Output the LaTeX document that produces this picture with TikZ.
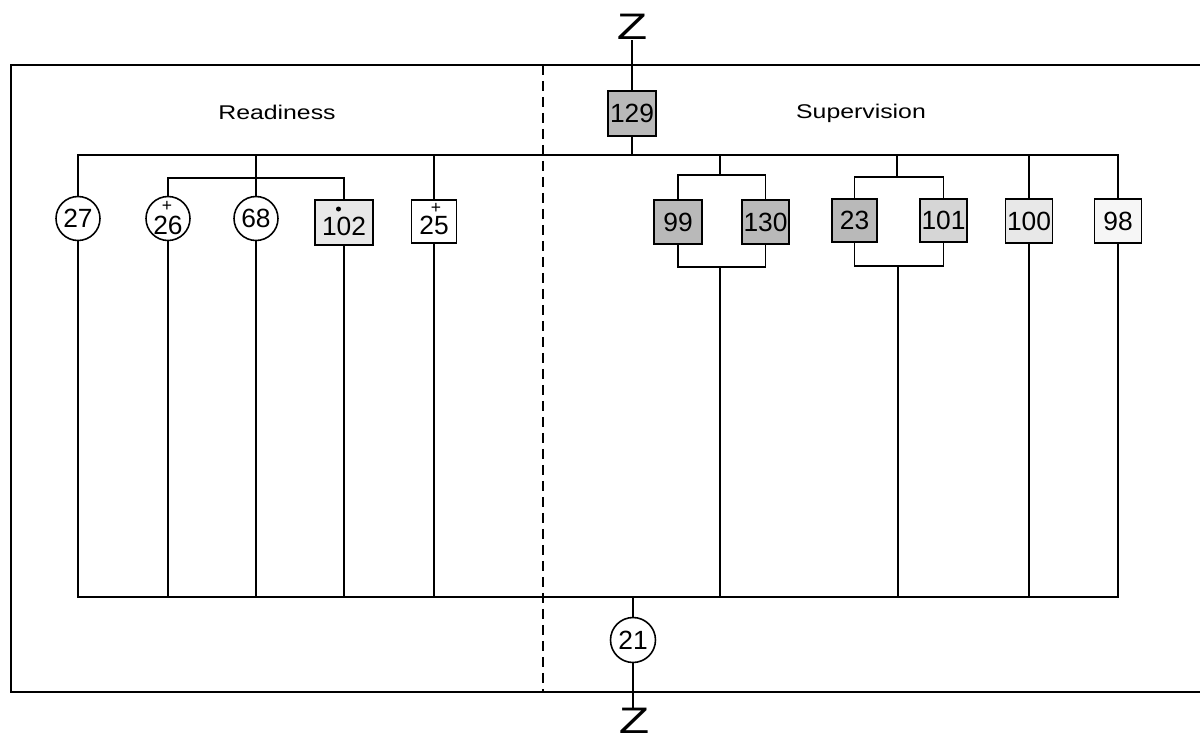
\documentclass[tikz,border=0pt]{standalone}
\usepackage{fontspec}
\setmainfont{Liberation Sans}
\begin{document}
\begin{tikzpicture}[x=0.02cm,y=-0.02cm,line width=0.8pt,
  numfont/.style={font=\fontsize{15}{16}\selectfont},
  circ/.style={circle,draw,line width=0.9pt,minimum size=8.8mm,inner sep=0pt,fill=white,numfont},
  sq/.style={rectangle,draw,line width=0.9pt,minimum width=9.4mm,minimum height=8.8mm,inner sep=0pt,numfont},
  darkbox/.style={sq,fill=gray!55,line width=1.4pt},
  midbox/.style={sq,fill=gray!32,line width=1.1pt},
  lightbox/.style={sq,fill=gray!18},
  paleb/.style={sq,fill=gray!7},
  txt/.style={inner sep=0pt,numfont},
  signmark/.style={inner sep=0pt,font=\fontsize{10}{10}\selectfont},
  title/.style={inner sep=0pt,anchor=base,font=\fontsize{11.3}{12}\selectfont},
  zed/.style={inner sep=0pt,font=\fontsize{21}{21}\selectfont}
]
\useasboundingbox (0,0) rectangle (1200,740);

% frame and divider
\draw (1200,65) -- (11,65) -- (11,692) -- (1200,692);
\draw[dash pattern=on 2mm off 1.2mm] (543,65) -- (543,692);

% titles
\node[title] (tread) at (277,119) {\scalebox{1.25}[1]{Readiness}};
\node[title] (tsup) at (861,118) {\scalebox{1.25}[1]{Supervision}};

% Z marks
\node[zed] (ztop) at (632,26.5) {\scalebox{1.35}[1]{Z}};
\node[zed] (zbot) at (634,721) {\scalebox{1.35}[1]{Z}};

% bus coordinates
\coordinate (tb) at (0,155);
\coordinate (bb) at (0,597);
\coordinate (s1) at (0,178);
\coordinate (g2t) at (720,175);
\coordinate (g2b) at (720,267);
\coordinate (g3t) at (897,177);
\coordinate (g3b) at (898,266);

% nodes
\node[darkbox,minimum width=9.6mm,minimum height=9mm] (n129) at (632,113.5) {129};
\node[circ] (n27) at (78,218.5) {27};
\node[circ] (n26) at (168,218.5) {};
\node[txt] (t26) at (168,225) {26};
\node[signmark] (p26) at (167,206) {+};
\node[circ] (n68) at (256,218.5) {68};
\node[lightbox,minimum width=11.6mm,minimum height=9mm] (n102) at (344,222.5) {};
\node[txt] (t102) at (344,226) {102};
\node[circle,fill,inner sep=0pt,minimum size=1mm] (d102) at (338.5,209) {};
\node[sq,fill=white,minimum width=9mm,minimum height=8.6mm] (n25) at (434,221.5) {};
\node[txt] (t25) at (434,225) {25};
\node[signmark] (p25) at (436,208.5) {+};
\node[darkbox,minimum width=9.6mm] (n99) at (678,222) {99};
\node[darkbox] (n130) at (765.5,222) {130};
\node[darkbox,minimum width=9mm,minimum height=8.6mm] (n23) at (854.5,220.5) {23};
\node[midbox,minimum height=8.6mm] (n101) at (943.5,220.5) {101};
\node[lightbox] (n100) at (1029,221) {100};
\node[paleb] (n98) at (1118,221) {98};
\node[circ,minimum size=9mm] (n21) at (633,640) {21};

% main buses
\draw (n27.north) |- (n98.north |- tb) -- (n98.north);
\draw (n27.south) |- (n98.south |- bb) -- (n98.south);
\foreach \n in {n68,n25,n100}{
  \draw (\n.north) -- (\n.north |- tb);
  \draw (\n.south) -- (\n.south |- bb);
}
% 26 / 102 group
\draw (n26.north) |- (n102.north |- s1) -- (n102.north);
\draw (n26.south) -- (n26.south |- bb);
\draw (n102.south) -- (n102.south |- bb);
% 99 / 130 group
\draw (n99.north) |- (g2t) -| (n130.north);
\draw (g2t) -- (g2t |- tb);
\draw (n99.south) |- (g2b) -| (n130.south);
\draw (g2b) -- (g2b |- bb);
% 23 / 101 group
\draw (n23.north) |- (g3t) -| (n101.north);
\draw (g3t) -- (g3t |- tb);
\draw (n23.south) |- (g3b) -| (n101.south);
\draw (g3b) -- (g3b |- bb);
% 129 and 21
\draw (n129.north) -- (n129.north |- ztop.south);
\draw (n129.south) -- (n129.south |- tb);
\draw (n21.north) -- (n21.north |- bb);
\draw (n21.south) -- (n21.south |- zbot.north);
\end{tikzpicture}
\end{document}
